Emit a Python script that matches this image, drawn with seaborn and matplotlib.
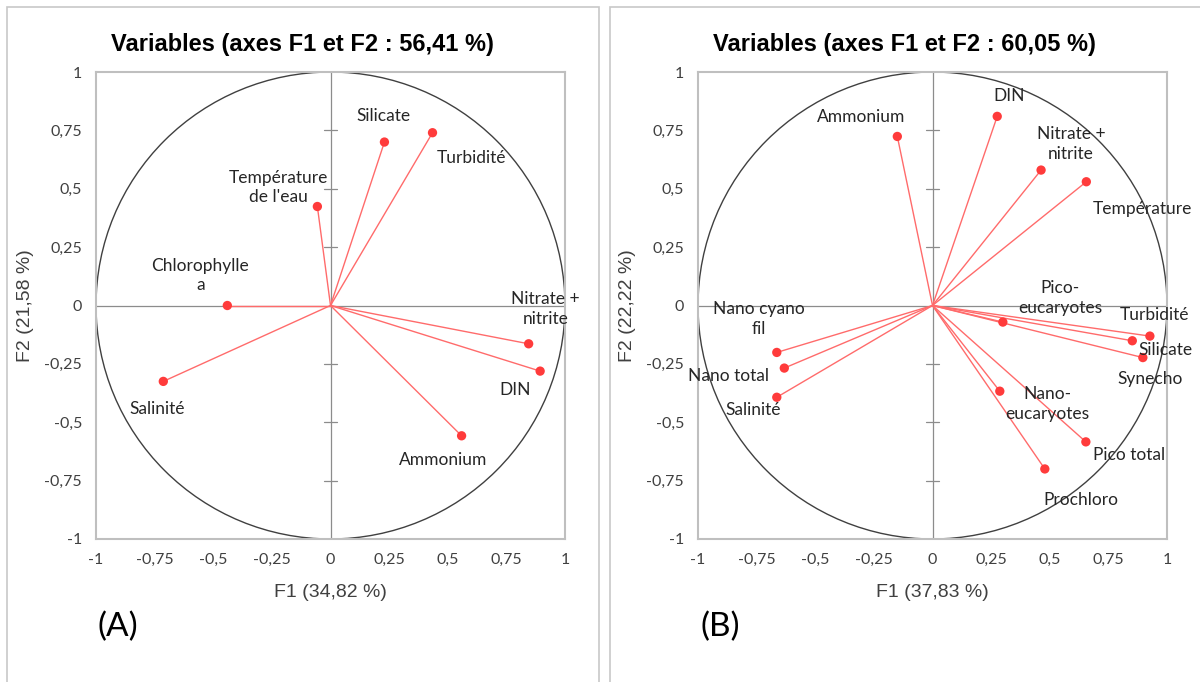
import numpy as np
import pandas as pd
import seaborn as sns
import matplotlib.pyplot as plt
from matplotlib.patches import Rectangle, Circle

# ACP - cercles des correlations, deux jeux de variables

# (A)
vars_a = ["Chlorophylle\na", "Température\nde l'eau", "Silicate", "Turbidité",
          "Nitrate +\nnitrite", "DIN", "Ammonium", "Salinité"]
f1_a = [-0.44, -0.056, 0.23, 0.435, 0.845, 0.894, 0.559, -0.713]
f2_a = [0.0, 0.424, 0.70, 0.74, -0.164, -0.281, -0.558, -0.325]

# (B)
vars_b = ["Ammonium", "DIN", "Nitrate +\nnitrite", "Température", "Pico-\neucaryotes",
          "Turbidité", "Silicate", "Synecho", "Nano-\neucaryotes", "Pico total",
          "Prochloro", "Nano cyano\nfil", "Nano total", "Salinité"]
f1_b = [-0.15, 0.276, 0.463, 0.656, 0.30, 0.927, 0.852, 0.897, 0.287, 0.654,
        0.479, -0.664, -0.632, -0.664]
f2_b = [0.724, 0.81, 0.58, 0.53, -0.071, -0.131, -0.151, -0.223, -0.367, -0.584,
        -0.70, -0.201, -0.268, -0.393]

titles = ["Variables (axes F1 et F2 : 56,41 %)", "Variables (axes F1 et F2 : 60,05 %)"]
xlabels = ["F1 (34,82 %)", "F1 (37,83 %)"]
ylabels = ["F2 (21,58 %)", "F2 (22,22 %)"]
tags = ["(A)", "(B)"]
ticks = [-1, -0.75, -0.5, -0.25, 0, 0.25, 0.5, 0.75, 1]
tick_labels = ["-1", "-0,75", "-0,5", "-0,25", "0", "0,25", "0,5", "0,75", "1"]

# label offsets in pixels (dx, dy) from each point
offs_a = [(-27, 30), (-39, 19), (-1, 26), (39, -25), (17, 35), (-25, -19), (-18, -24), (-6, -28)]
offs_b = [(-36, 19), (12, 20), (30, 26), (56, -27), (57, 24), (5, 21), (33, -9), (7, -21),
          (48, -13), (43, -13), (36, -31), (-18, 33), (-56, -8), (-24, -13)]

sns.set_style("white")
plt.rcParams['font.family'] = ['Lato', 'DejaVu Sans']

RED = "#FF3B3B"
LINE = "#FF6B6B"
GRAY = "#BFBFBF"

fig = plt.figure(figsize=(12, 6.82), dpi=100)

# panel borders
fig.patches.append(Rectangle((7 / 1200, -0.01), 592 / 1200, 1 - 7 / 682 + 0.01,
                             transform=fig.transFigure, fill=False, ec="#C8C8C8", lw=1.2))
fig.patches.append(Rectangle((610 / 1200, -0.01), 600 / 1200, 1 - 7 / 682 + 0.01,
                             transform=fig.transFigure, fill=False, ec="#C8C8C8", lw=1.2))

panels = [(vars_a, f1_a, f2_a, offs_a, 96), (vars_b, f1_b, f2_b, offs_b, 698)]

for i, (names, f1, f2, offs, x0) in enumerate(panels):
    ax = fig.add_axes([x0 / 1200, 143 / 682, 469 / 1200, 467 / 682])
    df = pd.DataFrame({"F1": f1, "F2": f2, "var": names})

    ax.axhline(0, color="#8C8C8C", lw=0.9, zorder=1)
    ax.axvline(0, color="#8C8C8C", lw=0.9, zorder=1)
    for t in [-0.75, -0.5, -0.25, 0.25, 0.5, 0.75]:
        ax.plot([-0.026, 0.026], [t, t], color="#8C8C8C", lw=0.9, zorder=1)
    ax.add_patch(Circle((0, 0), 1, fill=False, ec="#404040", lw=1.0, zorder=2))

    for x, y in zip(f1, f2):
        ax.plot([0, x], [0, y], color=LINE, lw=1.0, zorder=3)
    sns.scatterplot(data=df, x="F1", y="F2", ax=ax, color=RED, s=45,
                    edgecolor="none", zorder=4, legend=False)

    for name, x, y, (dx, dy) in zip(names, f1, f2, offs):
        ax.annotate(name, (x, y), xytext=(dx, dy), textcoords="offset pixels",
                    ha="center", va="center", fontsize=12.5, color="#262626",
                    linespacing=1.3, zorder=5)

    ax.set_xlim(-1, 1)
    ax.set_ylim(-1, 1)
    ax.set_xticks(ticks)
    ax.set_xticklabels(tick_labels)
    ax.set_yticks(ticks)
    ax.set_yticklabels(tick_labels)
    ax.tick_params(length=0, labelsize=11.5, labelcolor="#404040", pad=10)
    for s in ax.spines.values():
        s.set_color(GRAY)
        s.set_linewidth(1.5)

    ax.set_title(titles[i], fontsize=17, fontweight="bold", family="Liberation Sans",
                 pad=15, color="black", x=0.441)
    ax.set_xlabel(xlabels[i], fontsize=14, family="Liberation Sans", color="#404040")
    ax.set_ylabel(ylabels[i], fontsize=14, family="Liberation Sans", color="#404040")
    ax.xaxis.set_label_coords(0.5, -0.096)
    ax.yaxis.set_label_coords(-0.132, 0.5)
    fig.text((x0 + 22) / 1200, 1 - 627 / 682, tags[i], fontsize=24, ha="center",
             va="center", color="black")

fig.savefig("out.png", dpi=100)
